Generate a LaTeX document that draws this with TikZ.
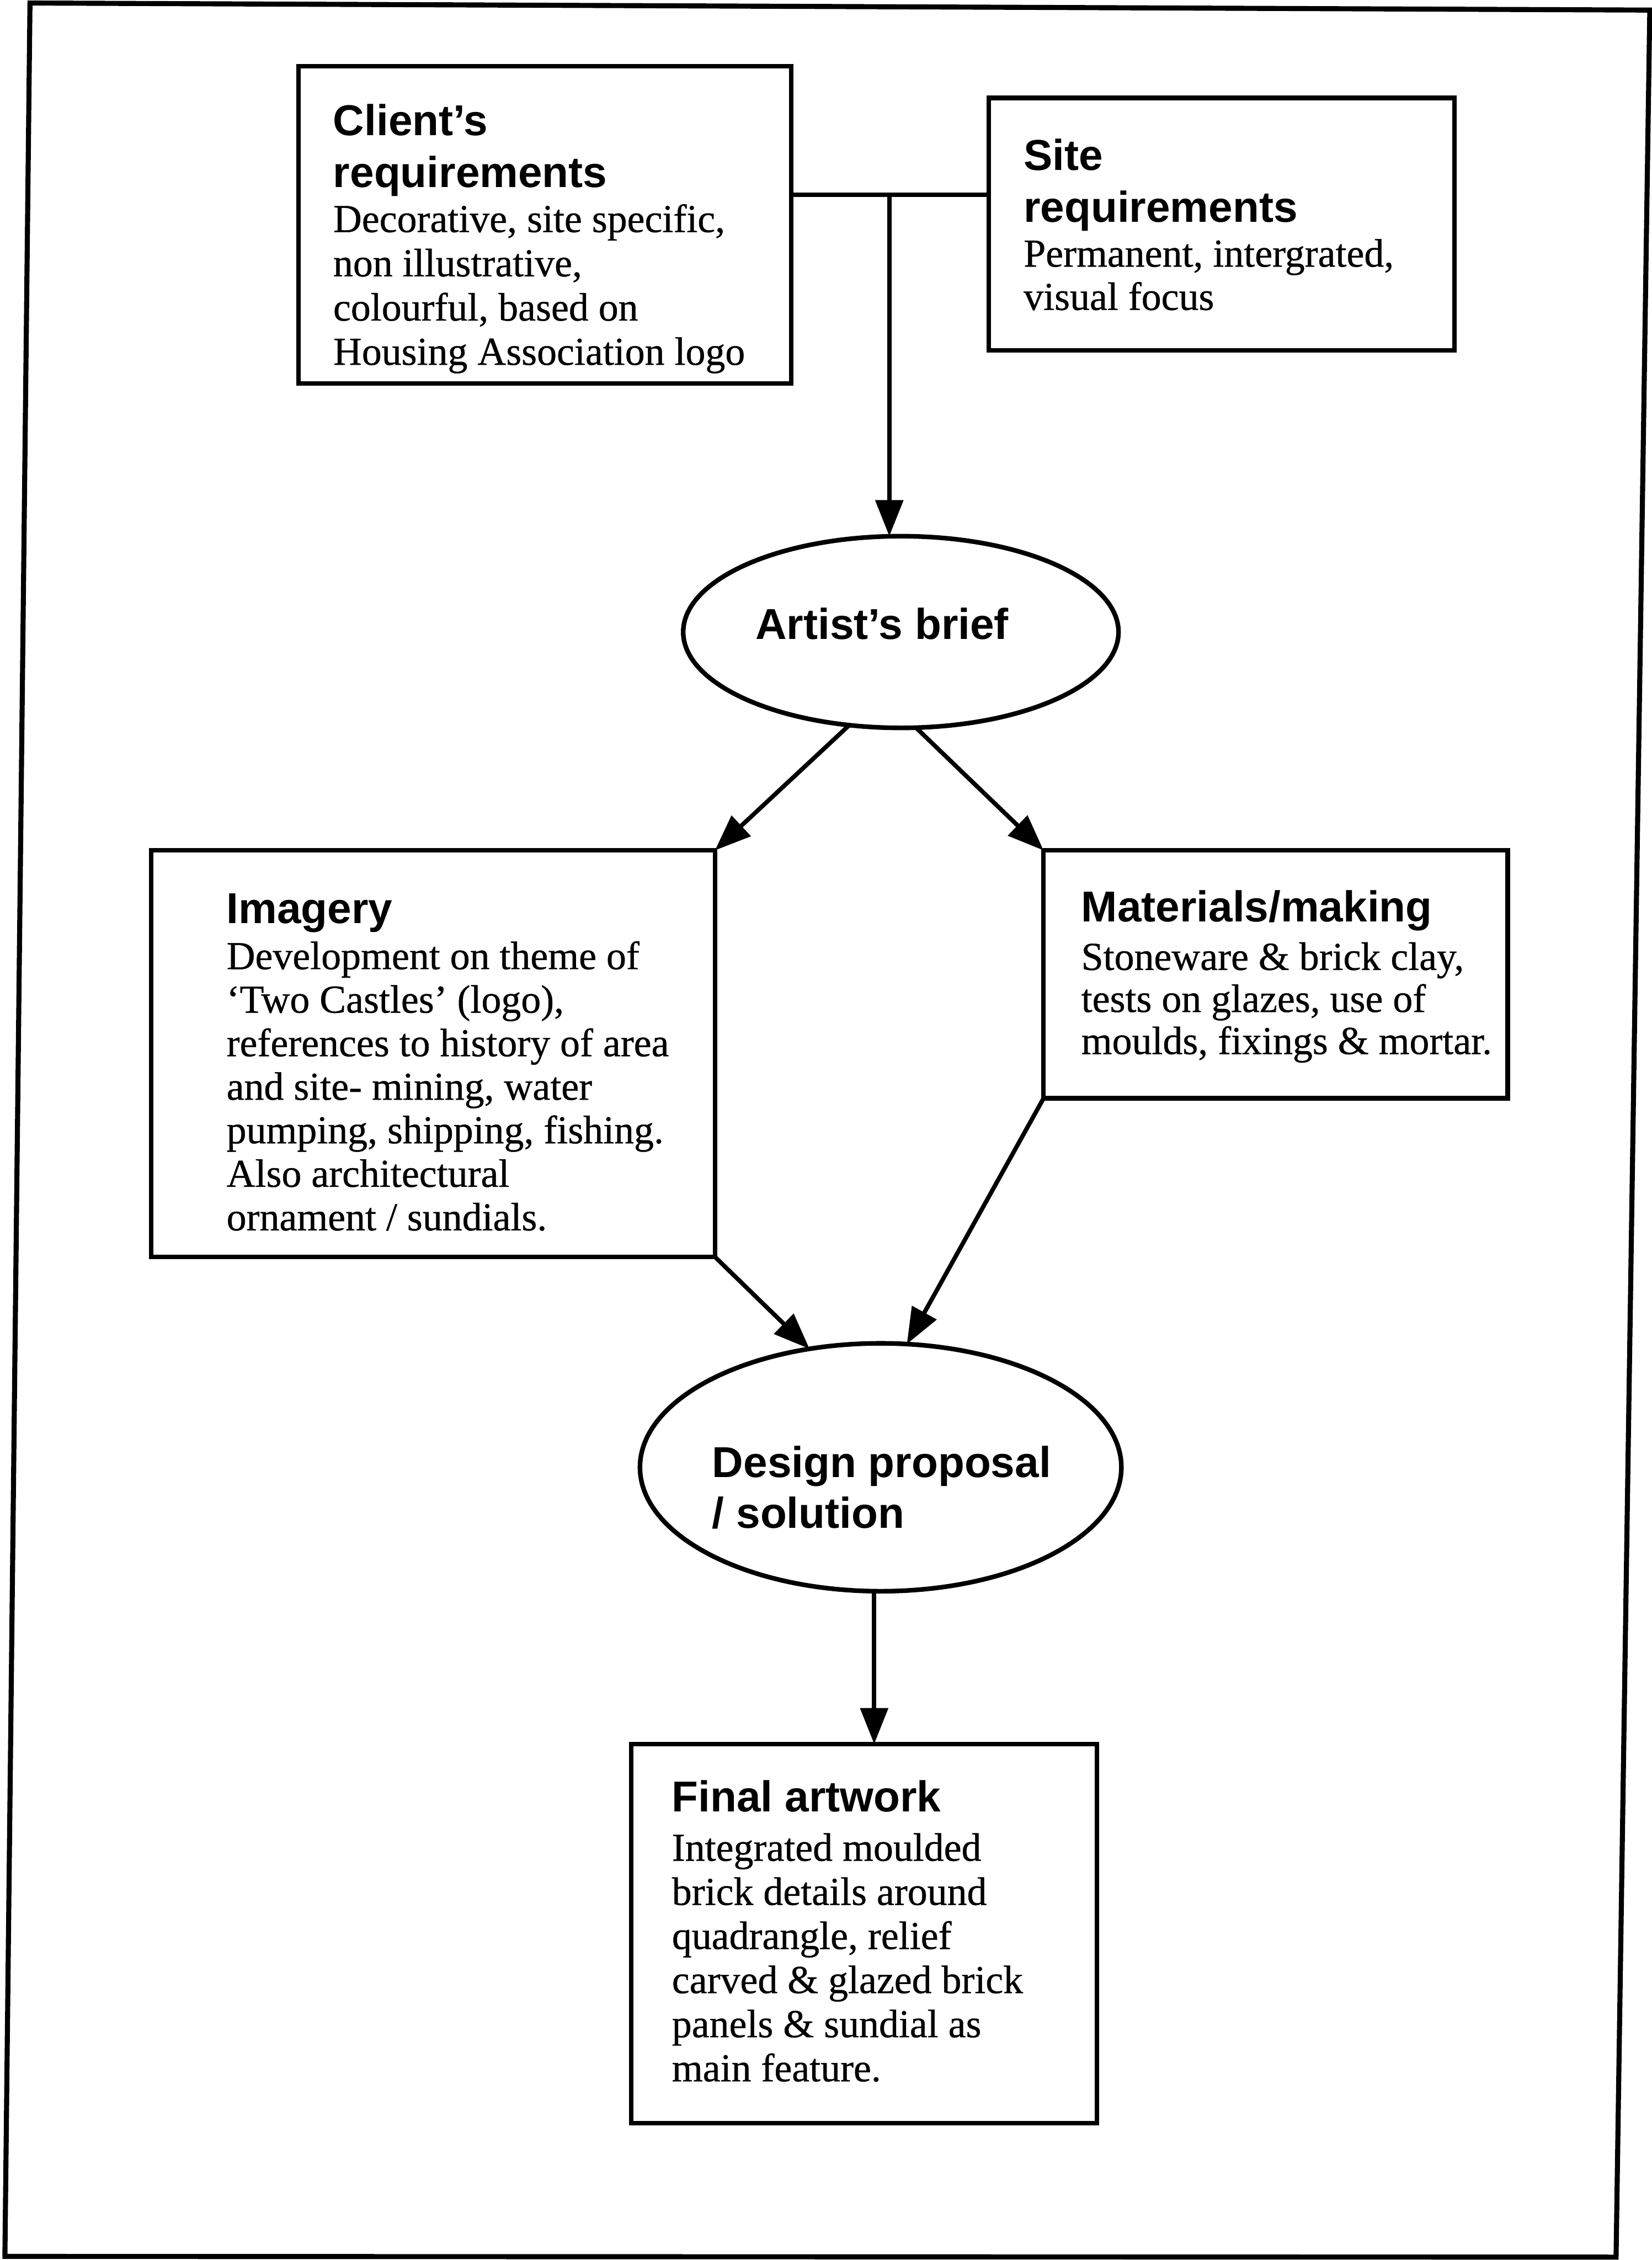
\documentclass[tikz,border=0pt]{standalone}
\usepackage{fontspec}
\setmainfont{Liberation Serif}[FakeBold=0.6]
\newfontfamily\headfont{Liberation Sans}
\usetikzlibrary{arrows.meta,shapes.geometric}

% left-aligned stack of lines whose baseline is the first line's baseline
\newcommand{\linesof}[1]{\begin{tabular}[t]{@{}l@{}}#1\end{tabular}}

\begin{document}
\begin{tikzpicture}[x=1pt,y=-1pt,
  box/.style={draw, rectangle, line width=3.2pt, inner sep=0pt, outer sep=0pt},
  oval/.style={draw, ellipse, line width=3.2pt, inner sep=0pt, outer sep=0pt},
  head/.style={font=\headfont\bfseries\fontsize{30}{#1}\selectfont, inner sep=0pt, anchor=base west},
  head/.default=36,
  body/.style={font=\fontsize{27.5}{#1}\selectfont, inner sep=0pt, anchor=base west},
  body/.default=30.5,
  link/.style={line width=3pt},
  arr/.style={line width=3pt, -{Triangle[length=25pt,width=19pt]}}]

\useasboundingbox (0,0) rectangle (1146,1568);

% outer frame
\draw[line width=3.5pt, line join=miter] (20.8,2.1) -- (1144.6,7) -- (1121.2,1566) -- (3.4,1565.5) -- cycle;

% boxes and ovals
\node[box, minimum width=342pt, minimum height=220pt] (client) at (378,156) {};
\node[box, minimum width=323pt, minimum height=175pt] (site) at (847.5,155.5) {};
\node[oval, minimum width=302pt, minimum height=133pt] (artist) at (625,438.5) {};
\node[box, minimum width=391pt, minimum height=282pt] (imagery) at (300.5,731) {};
\node[box, minimum width=322pt, minimum height=172pt] (materials) at (885,676) {};
\node[oval, minimum width=334pt, minimum height=172pt] (design) at (611,1018) {};
\node[box, minimum width=323pt, minimum height=263pt] (final) at (599.5,1341.5) {};

% texts
\node[head] (clientT) at (231,94) {\linesof{Client’s\\requirements}};
\node[body=30.7] (clientB) at (231,161) {\linesof{Decorative, site specific,\\non illustrative,\\colourful, based on\\Housing Association logo}};

\node[head] (siteT) at (710,118) {\linesof{Site\\requirements}};
\node[body=30] (siteB) at (710,185) {\linesof{Permanent, intergrated,\\visual focus}};

\node[head] (artistT) at (524,443.5) {Artist’s brief};

\node[head] (imageryT) at (157,640.7) {Imagery};
\node[body=30.2] (imageryB) at (157,672.4) {\linesof{Development on theme of\\‘Two Castles’ (logo),\\references to history of area\\and site- mining, water\\pumping, shipping, fishing.\\Also architectural\\ornament / sundials.}};

\node[head] (materialsT) at (750,639.6) {Materials/making};
\node[body=29.2] (materialsB) at (750,672.9) {\linesof{Stoneware \& brick clay,\\tests on glazes, use of\\moulds, fixings \& mortar.}};

\node[head=35] (designT) at (494,1025) {\linesof{Design proposal\\/ solution}};

\node[head] (finalT) at (466,1257) {Final artwork};
\node[body=30.6] (finalB) at (466,1291) {\linesof{Integrated moulded\\brick details around\\quadrangle, relief\\carved \& glazed brick\\panels \& sundial as\\main feature.}};

% connectors
\coordinate (junc) at (617,135);
\draw[link] (client.east |- junc) -- (site.west |- junc);
\draw[arr] (junc) -- (junc |- artist.north);
\draw[arr] (artist.-119) -- (imagery.north east);
\draw[arr] (artist.-81) -- (materials.north west);
\draw[arr] (imagery.south east) -- (design.121);
\draw[arr] (materials.south west) -- (design.78);
\draw[arr] (design.-93) -- (design.-93 |- final.north);
\end{tikzpicture}
\end{document}
